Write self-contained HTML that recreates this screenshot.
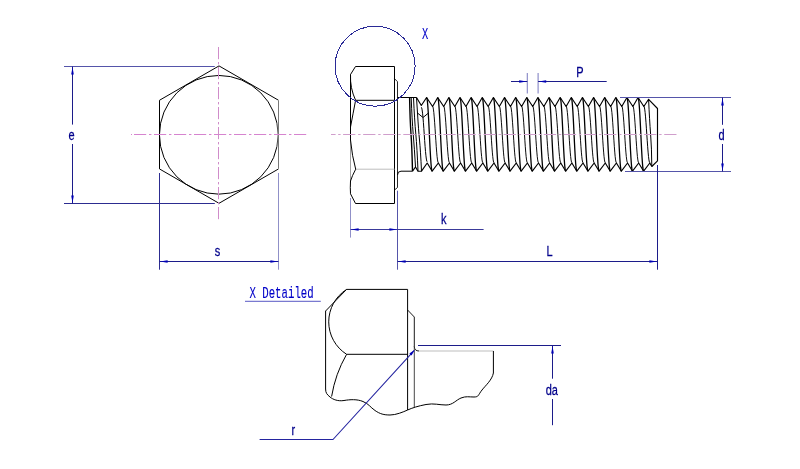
<!DOCTYPE html>
<html><head><meta charset="utf-8"><title>Hex bolt drawing</title>
<style>html,body{margin:0;padding:0;background:#fff;}svg{display:block;will-change:transform;}</style></head>
<body>
<svg width="800" height="469" viewBox="0 0 800 469">
<rect width="800" height="469" fill="#fff"/>
<polygon points="219.00,65.90 278.50,100.25 278.50,168.95 219.00,203.30 159.50,168.95 159.50,100.25" fill="none" stroke="#000" stroke-width="1.0"/>
<circle cx="218.8" cy="134.79999999999998" r="59.35" fill="none" stroke="#000" stroke-width="1.0"/>
<line x1="278.50" y1="100.30" x2="278.50" y2="168.90" stroke="#fff" stroke-width="1.6" />
<line x1="278.50" y1="100.30" x2="278.50" y2="168.90" stroke="#777" stroke-width="1" />
<line x1="134.00" y1="134.50" x2="307.00" y2="134.50" stroke="#d684cf" stroke-width="1" stroke-dasharray="12.2 2.8 2.4 2.6"/>
<line x1="131.00" y1="134.50" x2="132.00" y2="134.50" stroke="#d684cf" stroke-width="1" />
<line x1="218.50" y1="47.00" x2="218.50" y2="220.00" stroke="#d08cca" stroke-width="1" stroke-dasharray="12.2 2.8 2.4 2.6"/>
<line x1="64.00" y1="66.50" x2="214.80" y2="66.50" stroke="#5555aa" stroke-width="1.0" />
<line x1="64.00" y1="203.50" x2="214.80" y2="203.50" stroke="#2c2c90" stroke-width="1.0" />
<line x1="72.50" y1="66.50" x2="72.50" y2="124.60" stroke="#1c1c8a" stroke-width="1.0" />
<line x1="72.50" y1="144.00" x2="72.50" y2="203.50" stroke="#1c1c8a" stroke-width="1.0" />
<polygon points="72.50,67.00 73.80,74.60 71.20,74.60" fill="#0000b4"/>
<polygon points="72.50,203.00 71.20,195.40 73.80,195.40" fill="#0000b4"/>
<text transform="translate(71.60,140.30) scale(0.76,1)" text-anchor="middle" font-family="'Liberation Sans', sans-serif" font-size="14.5" fill="#00008b" stroke="#00008b" stroke-width="0.25" >e</text>
<line x1="159.50" y1="173.00" x2="159.50" y2="269.70" stroke="#2c2c90" stroke-width="1.0" />
<line x1="278.50" y1="173.00" x2="278.50" y2="269.70" stroke="#9090c8" stroke-width="1.0" />
<line x1="159.50" y1="261.50" x2="278.50" y2="261.50" stroke="#1c1c8a" stroke-width="1.0" />
<polygon points="160.00,261.50 167.60,260.20 167.60,262.80" fill="#0000b4"/>
<polygon points="278.00,261.50 270.40,262.80 270.40,260.20" fill="#0000b4"/>
<text transform="translate(217.60,255.90) scale(0.76,1)" text-anchor="middle" font-family="'Liberation Sans', sans-serif" font-size="14.5" fill="#00008b" stroke="#00008b" stroke-width="0.25" >s</text>
<path d="M350.5,74.5 L355.5,66.5 L394.5,66.5 L394.5,203.5 L355.5,203.5 L350.5,193.8" fill="none" stroke="#000" stroke-width="1.0" stroke-linejoin="round" />
<line x1="350.50" y1="74.50" x2="350.50" y2="140.00" stroke="#000" stroke-width="1.0" />
<line x1="350.50" y1="140.00" x2="350.50" y2="181.00" stroke="#888" stroke-width="0.8" />
<path d="M350.5,74.5 Q349.9,88 355.6,100.3" fill="none" stroke="#000" stroke-width="1.0" stroke-linejoin="round" />
<line x1="355.60" y1="100.30" x2="394.50" y2="100.30" stroke="#000" stroke-width="1.0" />
<line x1="355.60" y1="169.20" x2="394.50" y2="169.20" stroke="#bdbdbd" stroke-width="1" />
<path d="M355.6,100.3 Q353,114 350.5,127" fill="none" stroke="#000" stroke-width="1.0" stroke-linejoin="round" />
<path d="M350.5,140 Q352,156 355.7,169.2 Q352,176 350.5,181 Q350.1,188 350.5,193.8" fill="none" stroke="#000" stroke-width="1.0" stroke-linejoin="round" />
<path d="M394.5,78.7 L397.5,81.7 L397.5,187.5 L394.5,190" fill="none" stroke="#000" stroke-width="0.85" stroke-linejoin="round" />
<line x1="397.50" y1="97.50" x2="416.50" y2="97.50" stroke="#000" stroke-width="1.0" />
<path d="M397.5,175 Q397.5,171.2 401,171.2 L412.5,171.2" fill="none" stroke="#000" stroke-width="1.0" stroke-linejoin="round" />
<path d="M416.50,97.50 L421.30,105.50 L426.60,97.50 L432.56,106.50 L437.73,97.50 L443.69,106.50 L448.86,97.50 L454.82,106.50 L459.99,97.50 L465.95,106.50 L471.12,97.50 L477.08,106.50 L482.25,97.50 L488.21,106.50 L493.38,97.50 L499.34,106.50 L504.51,97.50 L510.48,106.50 L515.64,97.50 L521.61,106.50 L526.77,97.50 L532.74,106.50 L537.90,97.50 L543.87,106.50 L549.03,97.50 L555.00,106.50 L560.16,97.50 L566.13,106.50 L571.29,97.50 L577.25,106.50 L582.42,97.50 L588.39,106.50 L593.55,97.50 L599.52,106.50 L604.68,97.50 L610.65,106.50 L615.81,97.50 L621.78,106.50 L626.94,97.50 L632.91,106.50 L638.07,97.50 L643.84,106.50 L648.60,99.30 L657.50,108.50 L657.50,160.80 L651.80,166.50" fill="none" stroke="#000" stroke-width="1.15" stroke-linejoin="round" />
<path d="M412.50,171.20 L415.50,167.00 L418.00,171.20 L421.50,171.20 L427.20,163.00 L432.17,171.20 L438.33,163.00 L443.30,171.20 L449.46,163.00 L454.43,171.20 L460.59,163.00 L465.56,171.20 L471.72,163.00 L476.69,171.20 L482.85,163.00 L487.81,171.20 L493.98,163.00 L498.94,171.20 L505.11,163.00 L510.08,171.20 L516.24,163.00 L521.21,171.20 L527.37,163.00 L532.34,171.20 L538.50,163.00 L543.47,171.20 L549.63,163.00 L554.60,171.20 L560.76,163.00 L565.73,171.20 L571.89,163.00 L576.86,171.20 L583.02,163.00 L587.99,171.20 L594.15,163.00 L599.12,171.20 L605.28,163.00 L610.25,171.20 L616.41,163.00 L621.38,171.20 L627.54,163.00 L632.51,171.20 L638.67,163.00 L643.64,171.20 L649.80,163.00 L651.80,166.50" fill="none" stroke="#000" stroke-width="1.15" stroke-linejoin="round" />
<path d="M426.60,97.65 L427.00,98.57 L427.40,101.30 L427.79,105.69 L428.19,111.52 L428.59,118.51 L428.99,126.30 L429.38,134.50 L429.78,142.70 L430.18,150.49 L430.58,157.48 L430.97,163.31 L431.37,167.70 L431.77,170.43 L432.17,171.35" fill="none" stroke="#000" stroke-width="1.3" stroke-linejoin="round" />
<path d="M432.56,106.25 L432.98,106.96 L433.39,109.05 L433.80,112.41 L434.21,116.89 L434.62,122.24 L435.04,128.21 L435.45,134.50 L435.86,140.79 L436.27,146.76 L436.68,152.11 L437.09,156.59 L437.51,159.95 L437.92,162.04 L438.33,162.75" fill="none" stroke="#000" stroke-width="0.95" stroke-linejoin="round" />
<path d="M437.73,97.65 L438.13,98.57 L438.53,101.30 L438.92,105.69 L439.32,111.52 L439.72,118.51 L440.12,126.30 L440.51,134.50 L440.91,142.70 L441.31,150.49 L441.71,157.48 L442.10,163.31 L442.50,167.70 L442.90,170.43 L443.30,171.35" fill="none" stroke="#000" stroke-width="1.3" stroke-linejoin="round" />
<path d="M443.69,106.25 L444.11,106.96 L444.52,109.05 L444.93,112.41 L445.34,116.89 L445.75,122.24 L446.17,128.21 L446.58,134.50 L446.99,140.79 L447.40,146.76 L447.81,152.11 L448.22,156.59 L448.64,159.95 L449.05,162.04 L449.46,162.75" fill="none" stroke="#000" stroke-width="0.95" stroke-linejoin="round" />
<path d="M448.86,97.65 L449.26,98.57 L449.66,101.30 L450.05,105.69 L450.45,111.52 L450.85,118.51 L451.25,126.30 L451.64,134.50 L452.04,142.70 L452.44,150.49 L452.84,157.48 L453.23,163.31 L453.63,167.70 L454.03,170.43 L454.43,171.35" fill="none" stroke="#000" stroke-width="1.3" stroke-linejoin="round" />
<path d="M454.82,106.25 L455.24,106.96 L455.65,109.05 L456.06,112.41 L456.47,116.89 L456.88,122.24 L457.30,128.21 L457.71,134.50 L458.12,140.79 L458.53,146.76 L458.94,152.11 L459.35,156.59 L459.77,159.95 L460.18,162.04 L460.59,162.75" fill="none" stroke="#000" stroke-width="0.95" stroke-linejoin="round" />
<path d="M459.99,97.65 L460.39,98.57 L460.79,101.30 L461.18,105.69 L461.58,111.52 L461.98,118.51 L462.38,126.30 L462.77,134.50 L463.17,142.70 L463.57,150.49 L463.97,157.48 L464.36,163.31 L464.76,167.70 L465.16,170.43 L465.56,171.35" fill="none" stroke="#000" stroke-width="1.3" stroke-linejoin="round" />
<path d="M465.95,106.25 L466.37,106.96 L466.78,109.05 L467.19,112.41 L467.60,116.89 L468.01,122.24 L468.43,128.21 L468.84,134.50 L469.25,140.79 L469.66,146.76 L470.07,152.11 L470.48,156.59 L470.90,159.95 L471.31,162.04 L471.72,162.75" fill="none" stroke="#000" stroke-width="0.95" stroke-linejoin="round" />
<path d="M471.12,97.65 L471.52,98.57 L471.92,101.30 L472.31,105.69 L472.71,111.52 L473.11,118.51 L473.50,126.30 L473.90,134.50 L474.30,142.70 L474.70,150.49 L475.10,157.48 L475.49,163.31 L475.89,167.70 L476.29,170.43 L476.69,171.35" fill="none" stroke="#000" stroke-width="1.3" stroke-linejoin="round" />
<path d="M477.08,106.25 L477.50,106.96 L477.91,109.05 L478.32,112.41 L478.73,116.89 L479.14,122.24 L479.56,128.21 L479.97,134.50 L480.38,140.79 L480.79,146.76 L481.20,152.11 L481.61,156.59 L482.03,159.95 L482.44,162.04 L482.85,162.75" fill="none" stroke="#000" stroke-width="0.95" stroke-linejoin="round" />
<path d="M482.25,97.65 L482.65,98.57 L483.05,101.30 L483.44,105.69 L483.84,111.52 L484.24,118.51 L484.63,126.30 L485.03,134.50 L485.43,142.70 L485.83,150.49 L486.23,157.48 L486.62,163.31 L487.02,167.70 L487.42,170.43 L487.81,171.35" fill="none" stroke="#000" stroke-width="1.3" stroke-linejoin="round" />
<path d="M488.21,106.25 L488.63,106.96 L489.04,109.05 L489.45,112.41 L489.86,116.89 L490.27,122.24 L490.69,128.21 L491.10,134.50 L491.51,140.79 L491.92,146.76 L492.33,152.11 L492.74,156.59 L493.16,159.95 L493.57,162.04 L493.98,162.75" fill="none" stroke="#000" stroke-width="0.95" stroke-linejoin="round" />
<path d="M493.38,97.65 L493.78,98.57 L494.18,101.30 L494.57,105.69 L494.97,111.52 L495.37,118.51 L495.76,126.30 L496.16,134.50 L496.56,142.70 L496.96,150.49 L497.36,157.48 L497.75,163.31 L498.15,167.70 L498.55,170.43 L498.94,171.35" fill="none" stroke="#000" stroke-width="1.3" stroke-linejoin="round" />
<path d="M499.34,106.25 L499.76,106.96 L500.17,109.05 L500.58,112.41 L500.99,116.89 L501.40,122.24 L501.82,128.21 L502.23,134.50 L502.64,140.79 L503.05,146.76 L503.46,152.11 L503.87,156.59 L504.29,159.95 L504.70,162.04 L505.11,162.75" fill="none" stroke="#000" stroke-width="0.95" stroke-linejoin="round" />
<path d="M504.51,97.65 L504.91,98.57 L505.31,101.30 L505.70,105.69 L506.10,111.52 L506.50,118.51 L506.90,126.30 L507.29,134.50 L507.69,142.70 L508.09,150.49 L508.49,157.48 L508.88,163.31 L509.28,167.70 L509.68,170.43 L510.08,171.35" fill="none" stroke="#000" stroke-width="1.3" stroke-linejoin="round" />
<path d="M510.48,106.25 L510.89,106.96 L511.30,109.05 L511.71,112.41 L512.12,116.89 L512.53,122.24 L512.95,128.21 L513.36,134.50 L513.77,140.79 L514.18,146.76 L514.59,152.11 L515.00,156.59 L515.42,159.95 L515.83,162.04 L516.24,162.75" fill="none" stroke="#000" stroke-width="0.95" stroke-linejoin="round" />
<path d="M515.64,97.65 L516.04,98.57 L516.43,101.30 L516.83,105.69 L517.23,111.52 L517.63,118.51 L518.02,126.30 L518.42,134.50 L518.82,142.70 L519.22,150.49 L519.62,157.48 L520.01,163.31 L520.41,167.70 L520.81,170.43 L521.21,171.35" fill="none" stroke="#000" stroke-width="1.3" stroke-linejoin="round" />
<path d="M521.61,106.25 L522.02,106.96 L522.43,109.05 L522.84,112.41 L523.25,116.89 L523.66,122.24 L524.08,128.21 L524.49,134.50 L524.90,140.79 L525.31,146.76 L525.72,152.11 L526.13,156.59 L526.55,159.95 L526.96,162.04 L527.37,162.75" fill="none" stroke="#000" stroke-width="0.95" stroke-linejoin="round" />
<path d="M526.77,97.65 L527.17,98.57 L527.56,101.30 L527.96,105.69 L528.36,111.52 L528.76,118.51 L529.15,126.30 L529.55,134.50 L529.95,142.70 L530.35,150.49 L530.75,157.48 L531.14,163.31 L531.54,167.70 L531.94,170.43 L532.34,171.35" fill="none" stroke="#000" stroke-width="1.3" stroke-linejoin="round" />
<path d="M532.74,106.25 L533.15,106.96 L533.56,109.05 L533.97,112.41 L534.38,116.89 L534.79,122.24 L535.21,128.21 L535.62,134.50 L536.03,140.79 L536.44,146.76 L536.85,152.11 L537.26,156.59 L537.68,159.95 L538.09,162.04 L538.50,162.75" fill="none" stroke="#000" stroke-width="0.95" stroke-linejoin="round" />
<path d="M537.90,97.65 L538.30,98.57 L538.70,101.30 L539.09,105.69 L539.49,111.52 L539.89,118.51 L540.29,126.30 L540.68,134.50 L541.08,142.70 L541.48,150.49 L541.88,157.48 L542.27,163.31 L542.67,167.70 L543.07,170.43 L543.47,171.35" fill="none" stroke="#000" stroke-width="1.3" stroke-linejoin="round" />
<path d="M543.87,106.25 L544.28,106.96 L544.69,109.05 L545.10,112.41 L545.51,116.89 L545.92,122.24 L546.34,128.21 L546.75,134.50 L547.16,140.79 L547.57,146.76 L547.98,152.11 L548.39,156.59 L548.81,159.95 L549.22,162.04 L549.63,162.75" fill="none" stroke="#000" stroke-width="0.95" stroke-linejoin="round" />
<path d="M549.03,97.65 L549.43,98.57 L549.82,101.30 L550.22,105.69 L550.62,111.52 L551.02,118.51 L551.41,126.30 L551.81,134.50 L552.21,142.70 L552.61,150.49 L553.00,157.48 L553.40,163.31 L553.80,167.70 L554.20,170.43 L554.60,171.35" fill="none" stroke="#000" stroke-width="1.3" stroke-linejoin="round" />
<path d="M555.00,106.25 L555.41,106.96 L555.82,109.05 L556.23,112.41 L556.64,116.89 L557.05,122.24 L557.47,128.21 L557.88,134.50 L558.29,140.79 L558.70,146.76 L559.11,152.11 L559.52,156.59 L559.94,159.95 L560.35,162.04 L560.76,162.75" fill="none" stroke="#000" stroke-width="0.95" stroke-linejoin="round" />
<path d="M560.16,97.65 L560.56,98.57 L560.96,101.30 L561.35,105.69 L561.75,111.52 L562.15,118.51 L562.55,126.30 L562.94,134.50 L563.34,142.70 L563.74,150.49 L564.14,157.48 L564.53,163.31 L564.93,167.70 L565.33,170.43 L565.73,171.35" fill="none" stroke="#000" stroke-width="1.3" stroke-linejoin="round" />
<path d="M566.13,106.25 L566.54,106.96 L566.95,109.05 L567.36,112.41 L567.77,116.89 L568.18,122.24 L568.60,128.21 L569.01,134.50 L569.42,140.79 L569.83,146.76 L570.24,152.11 L570.65,156.59 L571.07,159.95 L571.48,162.04 L571.89,162.75" fill="none" stroke="#000" stroke-width="0.95" stroke-linejoin="round" />
<path d="M571.29,97.65 L571.69,98.57 L572.08,101.30 L572.48,105.69 L572.88,111.52 L573.28,118.51 L573.67,126.30 L574.07,134.50 L574.47,142.70 L574.87,150.49 L575.26,157.48 L575.66,163.31 L576.06,167.70 L576.46,170.43 L576.86,171.35" fill="none" stroke="#000" stroke-width="1.3" stroke-linejoin="round" />
<path d="M577.25,106.25 L577.67,106.96 L578.08,109.05 L578.49,112.41 L578.90,116.89 L579.31,122.24 L579.73,128.21 L580.14,134.50 L580.55,140.79 L580.96,146.76 L581.37,152.11 L581.78,156.59 L582.20,159.95 L582.61,162.04 L583.02,162.75" fill="none" stroke="#000" stroke-width="0.95" stroke-linejoin="round" />
<path d="M582.42,97.65 L582.82,98.57 L583.22,101.30 L583.61,105.69 L584.01,111.52 L584.41,118.51 L584.81,126.30 L585.20,134.50 L585.60,142.70 L586.00,150.49 L586.40,157.48 L586.79,163.31 L587.19,167.70 L587.59,170.43 L587.99,171.35" fill="none" stroke="#000" stroke-width="1.3" stroke-linejoin="round" />
<path d="M588.39,106.25 L588.80,106.96 L589.21,109.05 L589.62,112.41 L590.03,116.89 L590.44,122.24 L590.86,128.21 L591.27,134.50 L591.68,140.79 L592.09,146.76 L592.50,152.11 L592.91,156.59 L593.33,159.95 L593.74,162.04 L594.15,162.75" fill="none" stroke="#000" stroke-width="0.95" stroke-linejoin="round" />
<path d="M593.55,97.65 L593.95,98.57 L594.35,101.30 L594.74,105.69 L595.14,111.52 L595.54,118.51 L595.94,126.30 L596.33,134.50 L596.73,142.70 L597.13,150.49 L597.53,157.48 L597.92,163.31 L598.32,167.70 L598.72,170.43 L599.12,171.35" fill="none" stroke="#000" stroke-width="1.3" stroke-linejoin="round" />
<path d="M599.52,106.25 L599.93,106.96 L600.34,109.05 L600.75,112.41 L601.16,116.89 L601.57,122.24 L601.99,128.21 L602.40,134.50 L602.81,140.79 L603.22,146.76 L603.63,152.11 L604.04,156.59 L604.46,159.95 L604.87,162.04 L605.28,162.75" fill="none" stroke="#000" stroke-width="0.95" stroke-linejoin="round" />
<path d="M604.68,97.65 L605.08,98.57 L605.48,101.30 L605.87,105.69 L606.27,111.52 L606.67,118.51 L607.07,126.30 L607.46,134.50 L607.86,142.70 L608.26,150.49 L608.66,157.48 L609.05,163.31 L609.45,167.70 L609.85,170.43 L610.25,171.35" fill="none" stroke="#000" stroke-width="1.3" stroke-linejoin="round" />
<path d="M610.65,106.25 L611.06,106.96 L611.47,109.05 L611.88,112.41 L612.29,116.89 L612.70,122.24 L613.12,128.21 L613.53,134.50 L613.94,140.79 L614.35,146.76 L614.76,152.11 L615.17,156.59 L615.59,159.95 L616.00,162.04 L616.41,162.75" fill="none" stroke="#000" stroke-width="0.95" stroke-linejoin="round" />
<path d="M615.81,97.65 L616.21,98.57 L616.61,101.30 L617.00,105.69 L617.40,111.52 L617.80,118.51 L618.20,126.30 L618.59,134.50 L618.99,142.70 L619.39,150.49 L619.79,157.48 L620.18,163.31 L620.58,167.70 L620.98,170.43 L621.38,171.35" fill="none" stroke="#000" stroke-width="1.3" stroke-linejoin="round" />
<path d="M621.78,106.25 L622.19,106.96 L622.60,109.05 L623.01,112.41 L623.42,116.89 L623.83,122.24 L624.25,128.21 L624.66,134.50 L625.07,140.79 L625.48,146.76 L625.89,152.11 L626.30,156.59 L626.72,159.95 L627.13,162.04 L627.54,162.75" fill="none" stroke="#000" stroke-width="0.95" stroke-linejoin="round" />
<path d="M626.94,97.65 L627.34,98.57 L627.74,101.30 L628.13,105.69 L628.53,111.52 L628.93,118.51 L629.33,126.30 L629.72,134.50 L630.12,142.70 L630.52,150.49 L630.92,157.48 L631.31,163.31 L631.71,167.70 L632.11,170.43 L632.51,171.35" fill="none" stroke="#000" stroke-width="1.3" stroke-linejoin="round" />
<path d="M632.91,106.25 L633.32,106.96 L633.73,109.05 L634.14,112.41 L634.55,116.89 L634.96,122.24 L635.38,128.21 L635.79,134.50 L636.20,140.79 L636.61,146.76 L637.02,152.11 L637.43,156.59 L637.85,159.95 L638.26,162.04 L638.67,162.75" fill="none" stroke="#000" stroke-width="0.95" stroke-linejoin="round" />
<path d="M638.07,97.65 L638.47,98.57 L638.87,101.30 L639.26,105.69 L639.66,111.52 L640.06,118.51 L640.46,126.30 L640.85,134.50 L641.25,142.70 L641.65,150.49 L642.05,157.48 L642.44,163.31 L642.84,167.70 L643.24,170.43 L643.64,171.35" fill="none" stroke="#000" stroke-width="1.3" stroke-linejoin="round" />
<path d="M643.84,106.25 L644.26,106.96 L644.69,109.05 L645.11,112.41 L645.54,116.89 L645.97,122.24 L646.39,128.21 L646.82,134.50 L647.24,140.79 L647.67,146.76 L648.10,152.11 L648.52,156.59 L648.95,159.95 L649.37,162.04 L649.80,162.75" fill="none" stroke="#000" stroke-width="1.0" stroke-linejoin="round" />
<path d="M648.6,99.3 Q649.5,120 650.6,134 T651.8,166.5" fill="none" stroke="#000" stroke-width="1.0" stroke-linejoin="round" />
<path d="M409.6,97.5 Q410,120 411,134 T412.5,171.2" fill="none" stroke="#000" stroke-width="1.4" stroke-linejoin="round" />
<path d="M411.2,97.5 Q412,120 413.2,134 T415.5,167" fill="none" stroke="#000" stroke-width="1.0" stroke-linejoin="round" />
<path d="M413.5,97.5 Q414.5,120 415.8,134 T418,171.2" fill="none" stroke="#000" stroke-width="1.0" stroke-linejoin="round" />
<path d="M416.5,97.5 L417.5,113 L423,117.5 L428.5,113" fill="none" stroke="#000" stroke-width="1.0" stroke-linejoin="round" />
<path d="M417.5,113 Q418.5,130 419.5,140 T421.5,171.2" fill="none" stroke="#000" stroke-width="1.0" stroke-linejoin="round" />
<path d="M421.30,107.25 L421.72,107.93 L422.14,109.95 L422.56,113.20 L422.99,117.51 L423.41,122.68 L423.83,128.44 L424.25,134.50 L424.67,140.56 L425.09,146.32 L425.51,151.49 L425.94,155.80 L426.36,159.05 L426.78,161.07 L427.20,161.75" fill="none" stroke="#000" stroke-width="1.0" stroke-linejoin="round" />
<line x1="343.10" y1="134.50" x2="677.00" y2="134.50" stroke="#d09ecc" stroke-width="1" stroke-dasharray="12.25 2.8 2.4 2.62"/>
<line x1="331.00" y1="134.50" x2="335.60" y2="134.50" stroke="#d09ecc" stroke-width="1" />
<line x1="338.20" y1="134.50" x2="340.60" y2="134.50" stroke="#d09ecc" stroke-width="1" />
<circle cx="375.1" cy="66.2" r="40" fill="none" stroke="#2a2a96" stroke-width="1" shape-rendering="crispEdges"/>
<text transform="translate(425.20,38.70) scale(0.62,1)" text-anchor="middle" font-family="'Liberation Mono', sans-serif" font-size="16.7" fill="#0000c8" stroke="#0000c8" stroke-width="0.1" >X</text>
<line x1="527.30" y1="73.00" x2="527.30" y2="93.60" stroke="#8484c4" stroke-width="1.1" />
<line x1="538.10" y1="73.00" x2="538.10" y2="93.60" stroke="#8484c4" stroke-width="1.1" />
<line x1="511.00" y1="81.50" x2="527.30" y2="81.50" stroke="#1c1c8a" stroke-width="1.0" />
<line x1="538.10" y1="81.50" x2="606.70" y2="81.50" stroke="#1c1c8a" stroke-width="1.0" />
<polygon points="526.80,81.50 519.20,82.80 519.20,80.20" fill="#0000b4"/>
<polygon points="538.60,81.50 546.20,80.20 546.20,82.80" fill="#0000b4"/>
<text transform="translate(580.00,76.60) scale(0.76,1)" text-anchor="middle" font-family="'Liberation Sans', sans-serif" font-size="14.5" fill="#00008b" stroke="#00008b" stroke-width="0.25" >P</text>
<line x1="620.00" y1="97.50" x2="731.00" y2="97.50" stroke="#5555aa" stroke-width="1.0" />
<line x1="625.00" y1="171.50" x2="731.00" y2="171.50" stroke="#5555aa" stroke-width="1.0" />
<line x1="722.50" y1="97.50" x2="722.50" y2="124.80" stroke="#1c1c8a" stroke-width="1.0" />
<line x1="722.50" y1="144.00" x2="722.50" y2="171.50" stroke="#1c1c8a" stroke-width="1.0" />
<polygon points="722.50,98.00 723.80,105.60 721.20,105.60" fill="#0000b4"/>
<polygon points="722.50,171.00 721.20,163.40 723.80,163.40" fill="#0000b4"/>
<text transform="translate(721.50,139.90) scale(0.76,1)" text-anchor="middle" font-family="'Liberation Sans', sans-serif" font-size="14.5" fill="#00008b" stroke="#00008b" stroke-width="0.25" >d</text>
<line x1="350.50" y1="198.00" x2="350.50" y2="237.60" stroke="#9090c8" stroke-width="1.0" />
<line x1="397.50" y1="190.70" x2="397.50" y2="269.70" stroke="#5555aa" stroke-width="1.0" />
<line x1="350.50" y1="229.50" x2="483.60" y2="229.50" stroke="#3a3a9a" stroke-width="1.0" />
<polygon points="351.00,229.50 358.60,228.20 358.60,230.80" fill="#0000b4"/>
<polygon points="397.00,229.50 389.40,230.80 389.40,228.20" fill="#0000b4"/>
<text transform="translate(443.70,223.60) scale(0.76,1)" text-anchor="middle" font-family="'Liberation Sans', sans-serif" font-size="14.5" fill="#00008b" stroke="#00008b" stroke-width="0.25" >k</text>
<line x1="657.50" y1="165.00" x2="657.50" y2="269.70" stroke="#1c1c8a" stroke-width="1.0" />
<line x1="397.50" y1="261.50" x2="657.50" y2="261.50" stroke="#1c1c8a" stroke-width="1.0" />
<polygon points="398.00,261.50 405.60,260.20 405.60,262.80" fill="#0000b4"/>
<polygon points="657.00,261.50 649.40,262.80 649.40,260.20" fill="#0000b4"/>
<text transform="translate(549.50,255.90) scale(0.76,1)" text-anchor="middle" font-family="'Liberation Sans', sans-serif" font-size="14.5" fill="#00008b" stroke="#00008b" stroke-width="0.25" >L</text>
<text transform="translate(249.40,297.80) scale(0.642,1)" text-anchor="start" font-family="'Liberation Mono', sans-serif" font-size="16.7" fill="#0000c8" stroke="#0000c8" stroke-width="0.1" >X Detailed</text>
<line x1="245.00" y1="301.40" x2="320.80" y2="301.40" stroke="#7a7ad0" stroke-width="1.2" />
<path d="M325.6,389 L325.6,311 L346.6,289.4 L407.6,289.4 L407.6,410" fill="none" stroke="#000" stroke-width="1.0" stroke-linejoin="round" />
<path d="M346.6,289.4 A38.4 38.4 0 0 0 346.6,354.3" fill="none" stroke="#000" stroke-width="1.0" stroke-linejoin="round" />
<line x1="346.60" y1="354.30" x2="407.60" y2="354.30" stroke="#000" stroke-width="1.0" />
<path d="M346.6,354.3 A125 125 0 0 0 331.6,396.5" fill="none" stroke="#000" stroke-width="1.0" stroke-linejoin="round" />
<path d="M407.6,310 L414.3,317 L414.3,346.5 Q414.5,351 419,351" fill="none" stroke="#000" stroke-width="0.9" stroke-linejoin="round" />
<line x1="414.30" y1="346.00" x2="414.30" y2="407.00" stroke="#333" stroke-width="0.9" />
<line x1="419.00" y1="351.00" x2="493.40" y2="351.00" stroke="#bdbdbd" stroke-width="1" />
<path d="M493.4,351 L493.4,373 C492,380 486,385 482,390 S479,397 474,397 S466,396 461,398 S453,405 446,405 S434,403 426,404.5 S412,408 407.6,410 S396,415 390,415 S380,414 375,410.5 S369,404 363,401.5 S350,399.5 344,400.5 S333,399.5 330,397 S325.6,393 325.6,389" fill="none" stroke="#000" stroke-width="1.0" stroke-linejoin="round" />
<line x1="418.00" y1="345.50" x2="561.00" y2="345.50" stroke="#1c1c8a" stroke-width="1.0" />
<line x1="552.50" y1="345.50" x2="552.50" y2="378.70" stroke="#1c1c8a" stroke-width="1.0" />
<line x1="552.50" y1="399.00" x2="552.50" y2="425.20" stroke="#1c1c8a" stroke-width="1.0" />
<polygon points="552.50,346.00 553.80,353.60 551.20,353.60" fill="#0000b4"/>
<text transform="translate(551.80,395.00) scale(0.76,1)" text-anchor="middle" font-family="'Liberation Sans', sans-serif" font-size="14.5" fill="#00008b" stroke="#00008b" stroke-width="0.25" >da</text>
<path d="M259.6,439.5 L333,439.5 L414.3,350.3" fill="none" stroke="#2424a0" stroke-width="1.1" stroke-linejoin="round" />
<polygon points="414.50,350.10 411.57,355.54 409.35,353.52" fill="#0000b4"/>
<text transform="translate(293.40,435.00) scale(0.76,1)" text-anchor="middle" font-family="'Liberation Sans', sans-serif" font-size="14.5" fill="#00008b" stroke="#00008b" stroke-width="0.25" >r</text>
</svg>
</body></html>
